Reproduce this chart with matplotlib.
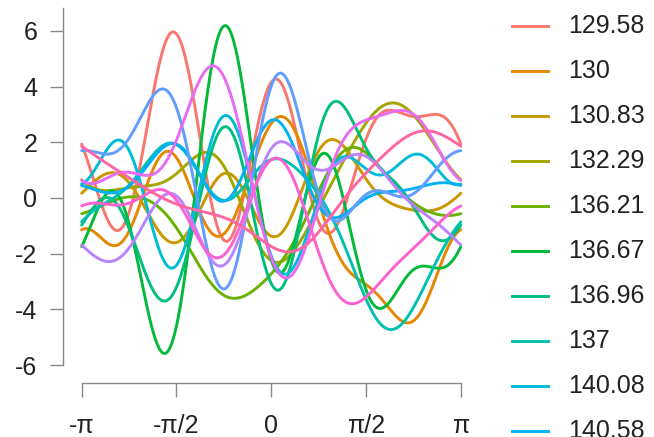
import numpy as np
import matplotlib
matplotlib.use("Agg")
import matplotlib.pyplot as plt
from matplotlib.lines import Line2D

plt.rcParams['font.family'] = ['Liberation Sans', 'DejaVu Sans']

labels = ["129.58", "130", "130.83", "132.29", "136.21", "136.67", "136.96",
          "137", "140.08", "140.58", "141.25", "142.5", "143.33", "145", "146.67"]
colors = ["#F8766D", "#E58700", "#C99800", "#A3A500", "#6BB100", "#00BA38",
          "#00BF7D", "#00C0AF", "#00BCD8", "#00B0F6", "#619CFF", "#B983FF",
          "#E76BF3", "#FD61D1", "#FF67A4"]

# Andrews curve variables, one row per group (x1 .. x11)
x_vars = [
    [2.50, -0.22, -0.29, -0.70, -0.48, 1.61, 1.35, 0.04, 1.76, -0.06, 0.05],
    [-1.26, -1.50, 1.70, 1.10, 0.80, 0.79, 0.44, -0.03, 0.86, 0.01, -0.23],
    [0.10, 0.54, 0.05, 0.45, -0.07, -0.63, -0.74, -0.09, -0.60, -0.03, -0.08],
    [1.08, 0.65, -1.18, -1.03, -1.29, -0.20, -0.24, 0.09, -0.27, 0.06, -0.03],
    [-1.08, 1.30, -1.09, 0.99, -0.96, -0.08, -0.04, -0.12, 0.08, -0.03, 0.05],
    [-1.37, -0.80, 1.85, -0.77, 0.98, -1.50, -2.06, 0.12, -2.00, -0.05, -0.03],
    [-0.36, 1.34, 0.58, -0.26, -0.66, -1.36, -1.50, 0.00, -1.11, -0.20, -0.13],
    [-0.82, -2.13, 1.18, 1.15, 0.56, 0.56, -0.12, -0.17, 0.28, -0.09, 0.06],
    [0.57, 0.31, -0.71, -0.71, -0.05, -1.34, -0.72, -0.24, -1.14, 0.08, 0.14],
    [0.98, -0.53, 0.38, -0.02, 0.33, 0.44, 0.67, 0.05, 0.60, 0.00, 0.12],
    [1.46, -0.53, -0.38, 1.35, 0.59, 1.07, 1.39, 0.12, 1.24, 0.04, 0.15],
    [-0.32, 1.23, 0.98, 0.47, -0.37, 0.49, 0.63, -0.12, 0.64, -0.03, 0.12],
    [2.01, -0.27, -0.67, -1.68, -1.60, -0.63, -0.82, -0.07, -0.58, 0.00, 0.10],
    [-1.51, -1.14, 0.06, 0.43, 1.18, 0.55, 0.78, 0.10, 0.43, -0.05, -0.01],
    [0.34, 0.47, -1.78, -0.53, -0.14, -0.10, -0.04, -0.08, -0.04, -0.01, 0.02],
]

y_ticks = [-6, -4, -2, 0, 2, 4, 6]
y_tick_labels = ["-6", "-4", "-2", "0", "2", "4", "6"]
x_ticks = [-np.pi, -np.pi / 2, 0, np.pi / 2, np.pi]
x_tick_labels = ["-π", "-π/2", "0", "π/2", "π"]


def andrews(x, t):
    # f(t) = x1/sqrt(2) + x2 sin t + x3 cos t + x4 sin 2t + x5 cos 2t + ...
    f = np.full_like(t, x[0] / np.sqrt(2))
    for i, v in enumerate(x[1:]):
        k = i // 2 + 1
        f = f + v * (np.sin(k * t) if i % 2 == 0 else np.cos(k * t))
    return f


W, H = 654, 437
fig = plt.figure(figsize=(W / 100, H / 100), dpi=100)
ax = fig.add_axes([66.5 / W, 1 - 375 / H, (476 - 66.5) / W, (375 - 8) / H])

t = np.linspace(-np.pi, np.pi, 600)
for x, col in zip(x_vars, colors):
    ax.plot(t, andrews(x, t), color=col, lw=2.1, solid_capstyle='round')

ax.set_xlim(-3.393, 3.393)
ax.set_ylim(-6.359, 6.826)
for s in ['top', 'right']:
    ax.spines[s].set_visible(False)
ax.spines['left'].set_position(('outward', 2.5))
ax.spines['bottom'].set_position(('outward', 5.8))
ax.spines['left'].set_bounds(-6, 6.826)
ax.spines['bottom'].set_bounds(-np.pi, np.pi)
for s in ['left', 'bottom']:
    ax.spines[s].set_color('#888888')
    ax.spines[s].set_linewidth(1.0)

ax.set_yticks(y_ticks)
ax.set_yticklabels(y_tick_labels)
ax.set_xticks(x_ticks)
ax.set_xticklabels(x_tick_labels)
ax.tick_params(axis='y', length=9.4, width=1.0, color='#888888', pad=9,
               labelsize=18, labelcolor='#222222')
ax.tick_params(axis='x', length=10, width=1.0, color='#888888', pad=12,
               labelsize=18, labelcolor='#222222')

# legend on the right, one row per group
for i, (lab, col) in enumerate(zip(labels, colors)):
    yc = 1 - (26 + 45 * i) / H
    fig.add_artist(Line2D([512 / W, 548 / W], [yc, yc], color=col, lw=2.1))
    fig.text(568 / W, yc, lab, fontsize=18, color='#222222', va='center', ha='left')

fig.savefig("out.png", dpi=100)
